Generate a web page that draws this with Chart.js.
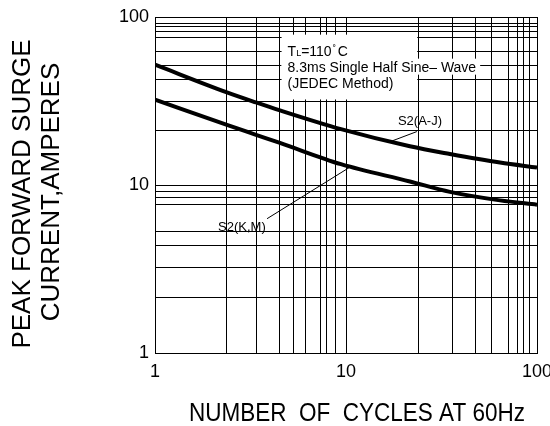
<!DOCTYPE html>
<html><head><meta charset="utf-8">
<script src="https://cdn.jsdelivr.net/npm/chart.js@4"></script>
<style>html,body{margin:0;padding:0;background:#fff;}</style>
</head><body>
<canvas id="c" width="550" height="426"></canvas>
<script>
// ---- data ----
const cycles   = [1, 2.38, 3.38, 4.51, 9.41, 21.6, 35, 64, 100];
const surgeAJ  = [52.0, 35.6, 31.0, 27.8, 21.5, 17.0, 15.3, 13.6, 12.7];
const surgeKM  = [32.2, 22.8, 19.9, 17.8, 13.3, 10.5, 9.1, 8.1, 7.64];
const xGrid = [1, 2.38, 3.38, 4.46, 5.28, 6.17, 7.31, 7.95, 8.76, 10, 24.1, 35.9, 47.4, 58.1, 71.3, 78.6, 84.5, 91.9, 100];
const yGrid = [1, 2.15, 3.21, 4.37, 5.29, 7.64, 8.37, 9.16, 10, 21.1, 31.4, 42.7, 51.5, 62.4, 75.0, 82.1, 87.9, 92.1, 100];
const xTickLabels = [1, 10, 100];
const yTickLabels = [1, 10, 100];
const seriesNames = ['S2(A-J)', 'S2(K,M)'];
const xTitle = 'NUMBER  OF  CYCLES AT 60Hz';
const yTitle = ['PEAK FORWARD SURGE', 'CURRENT,AMPERES'];
const noteLines = ['8.3ms Single Half Sine\u2013 Wave', '(JEDEC Method)'];

const FONT = '"Liberation Sans", Arial, Helvetica, sans-serif';

const annotate = {
  id: 'annotate',
  afterDatasetsDraw(chart) {
    const {ctx, scales: {x, y}} = chart;
    const X = v => x.getPixelForValue(v), Y = v => y.getPixelForValue(v);
    ctx.save();
    // white note box
    ctx.fillStyle = '#fff';
    const bx0 = X(4.6), bx1 = X(23.6), by0 = Y(78.5), by1 = Y(32.3);
    ctx.fillRect(bx0, by0, bx1 - bx0, by1 - by0);
    ctx.font = '14px ' + FONT;
    const l2w = ctx.measureText(noteLines[0]).width;
    ctx.fillRect(bx0, by0 + 24, l2w + 10, 16);
    // note text
    ctx.fillStyle = '#000';
    ctx.textBaseline = 'alphabetic';
    ctx.textAlign = 'left';
    let tx = bx0 + 6, ty = by0 + 21;
    ctx.font = '14px ' + FONT; ctx.fillText('T', tx, ty); tx += ctx.measureText('T').width;
    ctx.font = '9px ' + FONT; ctx.fillText('L', tx, ty); tx += ctx.measureText('L').width;
    ctx.font = '14px ' + FONT; ctx.fillText('=110', tx, ty); tx += ctx.measureText('=110').width;
    ctx.font = '10px ' + FONT; ctx.fillText('\u02da', tx + 1, ty - 3); tx += 6;
    ctx.font = '14px ' + FONT; ctx.fillText('C', tx, ty);
    ctx.fillText(noteLines[0], bx0 + 6, by0 + 37.5);
    ctx.fillText(noteLines[1], bx0 + 6, by0 + 53);
    // series labels with leaders
    ctx.strokeStyle = '#000';
    ctx.lineWidth = 1;
    ctx.beginPath();
    ctx.moveTo(X(17.0), Y(18.1)); ctx.lineTo(X(23.5), Y(20.8));
    ctx.moveTo(X(10.75), Y(13.0)); ctx.lineTo(X(3.86), Y(6.3));
    ctx.stroke();
    ctx.font = '13px ' + FONT;
    ctx.fillText(seriesNames[0], X(18.7), Y(22.9));
    ctx.fillText(seriesNames[1], X(2.14), Y(5.35));
    ctx.restore();
  },
  afterDraw(chart) {
    const {ctx} = chart;
    ctx.save();
    ctx.fillStyle = '#000';
    ctx.textAlign = 'center';
    ctx.textBaseline = 'middle';
    ctx.font = '26px ' + FONT;
    ctx.translate(23, 194); ctx.rotate(-Math.PI / 2);
    ctx.fillText(yTitle[0], 0, 0);
    ctx.fillText(yTitle[1], 2, 29);
    ctx.restore();
    ctx.save();
    ctx.fillStyle = '#000';
    ctx.textAlign = 'center';
    ctx.textBaseline = 'middle';
    ctx.font = '25px ' + FONT;
    ctx.translate(357, 414); ctx.scale(0.9, 1);
    ctx.fillText(xTitle, 0, 0);
    ctx.restore();
  }
};

new Chart(document.getElementById('c'), {
  type: 'line',
  data: {
    datasets: [
      {label: seriesNames[0], data: cycles.map((c, i) => ({x: c, y: surgeAJ[i]}))},
      {label: seriesNames[1], data: cycles.map((c, i) => ({x: c, y: surgeKM[i]}))}
    ]
  },
  options: {
    responsive: false,
    animation: false,
    devicePixelRatio: 1,
    layout: {padding: {top: 17, right: 13, left: 0, bottom: 0}},
    elements: {
      line: {borderColor: '#000', borderWidth: 4, cubicInterpolationMode: 'monotone', fill: false},
      point: {radius: 0}
    },
    plugins: {legend: {display: false}, tooltip: {enabled: false}},
    scales: {
      x: {
        type: 'logarithmic', min: 1, max: 100,
        afterBuildTicks(s) { s.ticks = xGrid.map(v => ({value: v})); },
        afterFit(s) { s.height = 73; s.paddingRight = 13; s.paddingLeft = 0; },
        ticks: {autoSkip: false, maxRotation: 0, minRotation: 0, padding: 8, color: '#000',
          font: {family: FONT, size: 18},
          callback: v => xTickLabels.includes(v) ? String(v) : ''},
        grid: {color: '#000', lineWidth: 1, drawTicks: false},
        border: {color: '#000', width: 1}
      },
      y: {
        type: 'logarithmic', min: 1, max: 100,
        afterBuildTicks(s) { s.ticks = yGrid.map(v => ({value: v})); },
        afterFit(s) { s.width = 155; s.paddingTop = 0; s.paddingBottom = 0; },
        ticks: {autoSkip: false, padding: 6, color: '#000',
          font: {family: FONT, size: 18},
          callback: v => yTickLabels.includes(v) ? String(v) : ''},
        grid: {color: '#000', lineWidth: 1, drawTicks: false},
        border: {color: '#000', width: 1}
      }
    }
  },
  plugins: [annotate]
});
</script>
</body></html>
